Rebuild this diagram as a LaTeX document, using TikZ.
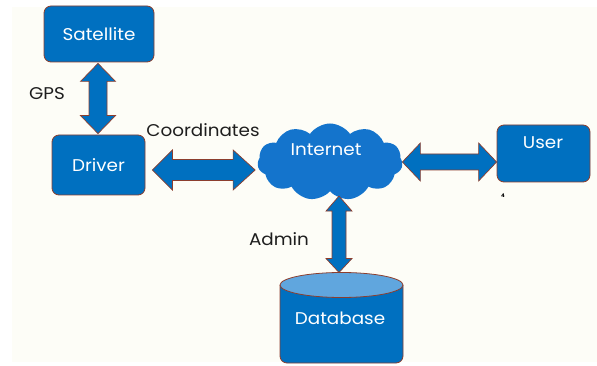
\documentclass[tikz,border=0pt]{standalone}
\usepackage{fontspec}
\setmainfont{Poppins}[FakeStretch=1.08]
\usetikzlibrary{shapes.symbols,calc}
\definecolor{boxblue}{RGB}{0,112,192}
\definecolor{cloudblue}{RGB}{20,116,204}
\definecolor{dbtopc}{RGB}{96,166,222}
\definecolor{rim}{RGB}{140,62,46}
\definecolor{paper}{RGB}{253,253,247}
\definecolor{ink}{RGB}{30,30,30}
\newcommand{\myharrow}[6]{\draw[arrowsty] let \p1=(#1), \p2=(#2) in
  (\x1,\y1) -- (\x1+#5,\y1+#4) -- (\x1+#5,\y1+#3) -- (\x2-#6,\y1+#3) -- (\x2-#6,\y1+#4) -- (\x2,\y1)
  -- (\x2-#6,\y1-#4) -- (\x2-#6,\y1-#3) -- (\x1+#5,\y1-#3) -- (\x1+#5,\y1-#4) -- cycle;}
\newcommand{\myvarrow}[6]{\draw[arrowsty] let \p1=(#1), \p2=(#2) in
  (\x1,\y1) -- (\x1+#4,\y1-#5) -- (\x1+#3,\y1-#5) -- (\x1+#3,\y2+#6) -- (\x1+#4,\y2+#6) -- (\x1,\y2)
  -- (\x1-#4,\y2+#6) -- (\x1-#3,\y2+#6) -- (\x1-#3,\y1-#5) -- (\x1-#4,\y1-#5) -- cycle;}
\begin{document}
\begin{tikzpicture}[x=1pt,y=-1pt,
  box/.style={draw=rim, line width=0.8pt, fill=boxblue, rounded corners=7pt, inner sep=0pt},
  whitetxt/.style={text=white, font=\fontsize{17}{20}\selectfont},
  blacktxt/.style={text=ink, font=\fontsize{17}{20}\selectfont},
  arrowsty/.style={draw=rim, line width=0.7pt, fill=boxblue, line join=miter}]
\useasboundingbox (0,0) rectangle (597,366);
\fill[white] (0,0) rectangle (597,366);
\fill[paper] (12,7) rectangle (597,362);
% nodes
\node[box, minimum width=110pt, minimum height=56pt, whitetxt] (sat) at (99,34) {Satellite};
\node[box, minimum width=93pt, minimum height=60pt, whitetxt] (driver) at (98.5,165) {Driver};
\node[box, minimum width=93pt, minimum height=57pt] (user) at (543.5,153.5) {};
\node[whitetxt] (usertxt) at (543,143) {User};
\node[cloud, cloud puffs=11, cloud puff arc=110, aspect=2, fill=cloudblue, minimum width=145pt, minimum height=77pt, inner sep=0pt] (inet) at (330,162) {};
\node[whitetxt] (inettxt) at (326,150) {Internet};
% database
\draw[rim, line width=0.8pt, fill=boxblue, rounded corners=7pt] (280,285) -- (280,363) -- (403,363) -- (403,285);
\draw[rim, line width=0.8pt, fill=dbtopc] (341.5,285) ellipse [x radius=61.5pt, y radius=12.5pt];
\coordinate (dbtop) at (339,272.5);
\node[whitetxt] (db) at (340,318) {Database};
% labels
\node[blacktxt] (gps) at (47,94) {GPS};
\node[blacktxt] (coord) at (203,130) {Coordinates};
\node[blacktxt] (admin) at (279,239) {Admin};
\node[text=black, font=\fontsize{5}{6}\selectfont\bfseries] (four) at (503,196) {4};
% arrows
\myvarrow{[xshift=-1pt,yshift=-1pt]sat.south}{[yshift=1pt]driver.north}{9pt}{17.5pt}{18pt}{18pt}
\myharrow{[shift={(7pt,-5pt)}]driver.east}{[xshift=-2.5pt]inet.west}{10.5pt}{20pt}{20pt}{22pt}
\myharrow{[yshift=0pt]inet.east}{user.west}{8pt}{19pt}{18pt}{18pt}
\myvarrow{[shift={(9pt,-4.5pt)}]inet.south}{dbtop}{7pt}{13pt}{15pt}{14pt}
\end{tikzpicture}
\end{document}
